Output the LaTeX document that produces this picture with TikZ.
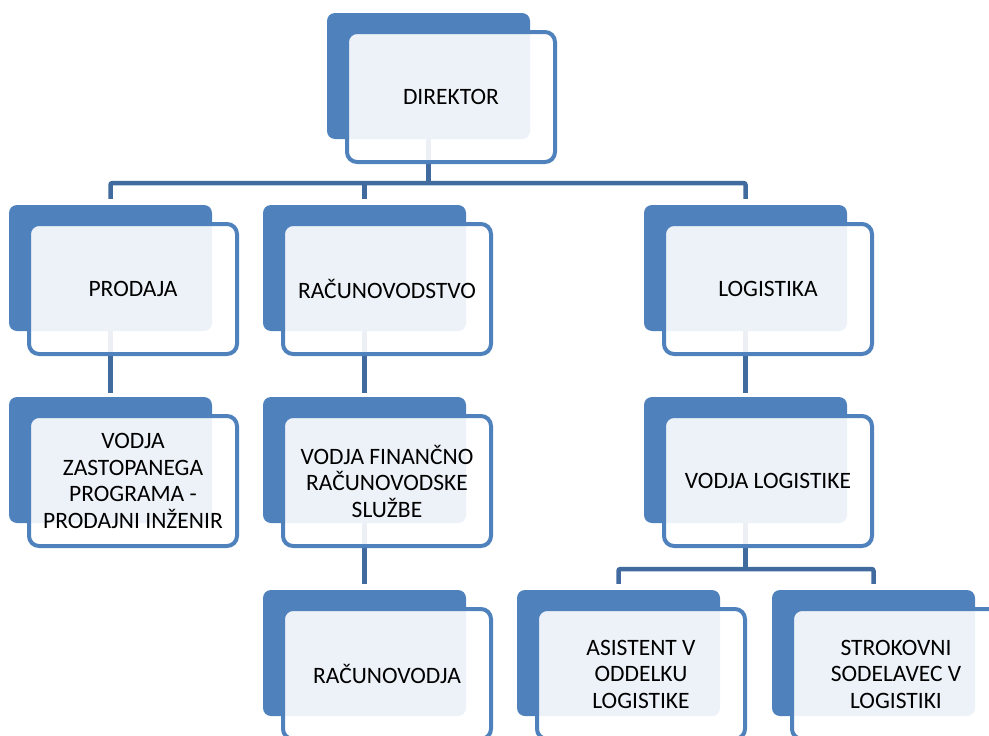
\documentclass[tikz,border=0pt]{standalone}
\usepackage{fontspec}
\setmainfont{Carlito}
\usetikzlibrary{backgrounds}
\definecolor{boxblue}{RGB}{79,129,189}
\definecolor{lineblue}{RGB}{65,106,158}

\begin{document}
\begin{tikzpicture}[x=1pt,y=-1pt,
  back/.style={fill=boxblue, rounded corners=8pt, minimum width=203pt, minimum height=126pt, inner sep=0pt},
  front/.style={draw=boxblue, line width=4pt, fill=white, fill opacity=0.9, text opacity=1, rounded corners=10pt,
    minimum width=208pt, minimum height=130pt, inner sep=0pt, align=center, font=\fontsize{23.5}{26.5}\selectfont},
  conn/.style={draw=lineblue, line width=4.5pt, rounded corners=2pt}]
\useasboundingbox (0,0) rectangle (989,736);

% top
\node[back] (dir) at (428.5,76) {};
\node[front] (dirt) at ([shift={(22.5,21)}]dir.center) {DIREKTOR};

% departments
\node[back] (prod) at (110.5,268) {};
\node[front] (prodt) at ([shift={(22.5,21)}]prod.center) {PRODAJA};
\node[back] (rac) at (364.5,268) {};
\node[front] (ract) at ([shift={(22.5,21)}]rac.center) {RAČUNOVODSTVO};
\node[back] (log) at (745.5,268) {};
\node[front] (logt) at ([shift={(22.5,21)}]log.center) {LOGISTIKA};

% heads
\node[back] (vzp) at (110.5,460) {};
\node[front] (vzpt) at ([shift={(22.5,21)}]vzp.center) {VODJA\\ZASTOPANEGA\\PROGRAMA -\\PRODAJNI INŽENIR};
\node[back] (vfr) at (364.5,460) {};
\node[front] (vfrt) at ([shift={(22.5,21)}]vfr.center) {VODJA FINANČNO\\RAČUNOVODSKE\\SLUŽBE};
\node[back] (vlog) at (745.5,460) {};
\node[front] (vlogt) at ([shift={(22.5,21)}]vlog.center) {VODJA LOGISTIKE};

% staff
\node[back] (racv) at (364.5,653) {};
\node[front] (racvt) at ([shift={(22.5,21)}]racv.center) {RAČUNOVODJA};
\node[back] (asi) at (618.5,653) {};
\node[front] (asit) at ([shift={(22.5,21)}]asi.center) {ASISTENT V\\ODDELKU\\LOGISTIKE};
\node[back] (str) at (873.5,653) {};
\node[front] (strt) at ([shift={(22.5,21)}]str.center) {STROKOVNI\\SODELAVEC V\\LOGISTIKI};

\coordinate (bar1) at (0,183);
\coordinate (bar2) at (0,569);

\begin{pgfonlayer}{background}
\draw[conn] (dir.center) -- (dir.center |- bar1);
\draw[conn, shorten <=6pt, shorten >=6pt] (prod.north) |- (bar1 -| log.north) -- (log.north);
\draw[conn, shorten >=6pt] (rac.north |- bar1) -- (rac.north);
\draw[conn, shorten >=4pt] (prod.center) -- (vzp.north);
\draw[conn, shorten >=4pt] (rac.center) -- (vfr.north);
\draw[conn, shorten >=4pt] (log.center) -- (vlog.north);
\draw[conn, shorten >=6pt] (vfr.center) -- (racv.north);
\draw[conn] (vlog.center) -- (vlog.center |- bar2);
\draw[conn, shorten <=6pt, shorten >=6pt] (asi.north) |- (bar2 -| str.north) -- (str.north);
\end{pgfonlayer}
\end{tikzpicture}
\end{document}
